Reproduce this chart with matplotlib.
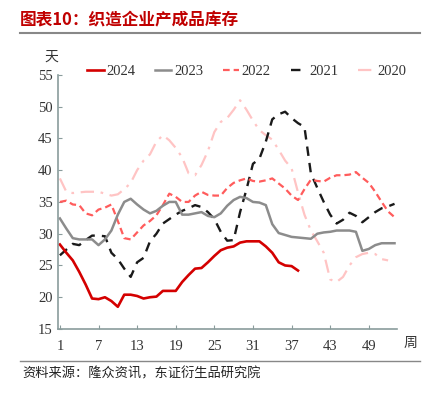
import matplotlib
matplotlib.use("Agg")
import matplotlib.pyplot as plt
from matplotlib.lines import Line2D

plt.rcParams['font.family'] = ['Liberation Serif', 'Noto Sans CJK SC', 'DejaVu Sans']

y2024 = [28.3, 27.0, 25.8, 24.0, 22.0, 19.8, 19.7, 20.0, 19.4, 18.5, 20.4, 20.4, 20.2, 19.8, 20.0,
         20.1, 21.0, 21.0, 21.0, 22.4, 23.5, 24.5, 24.6, 25.5, 26.5, 27.4, 27.8, 28.0, 28.6, 28.8,
         28.8, 28.8, 28.0, 27.0, 25.5, 25.0, 24.9, 24.2]
y2023 = [32.4, 30.8, 29.3, 29.1, 29.1, 29.1, 28.2, 29.1, 30.5, 33.0, 35.0, 35.5, 34.6, 33.8, 33.2,
         33.6, 34.4, 35.0, 35.0, 33.0, 33.0, 33.2, 33.4, 32.8, 32.6, 33.2, 34.4, 35.3, 35.8, 35.6,
         35.0, 34.9, 34.5, 31.5, 30.1, 29.8, 29.5, 29.4, 29.3, 29.2, 30.0, 30.2, 30.3, 30.5, 30.5,
         30.5, 30.3, 27.3, 27.6, 28.2, 28.5, 28.5, 28.5]
y2022 = [35.0, 35.2, 34.6, 34.5, 33.2, 32.9, 33.8, 34.1, 34.6, 32.0, 29.3, 29.1, 30.2, 31.3, 32.0,
         32.9, 34.5, 36.3, 35.8, 35.0, 35.0, 36.0, 36.6, 36.1, 36.0, 36.0, 37.2, 38.0, 38.4, 38.7,
         38.3, 38.2, 38.4, 38.7, 37.9, 37.1, 36.0, 35.3, 37.0, 38.5, 38.3, 38.2, 38.8, 39.2, 39.2,
         39.3, 39.7, 38.8, 38.0, 36.6, 35.0, 33.5, 32.6]
y2021 = [26.6, 27.5, 28.4, 28.2, 29.0, 29.7, 29.7, 29.6, 27.0, 26.0, 24.5, 23.2, 25.5, 26.2, 28.8,
         30.0, 31.6, 32.3, 33.0, 33.6, 34.0, 34.5, 34.2, 33.4, 32.3, 30.3, 28.9, 29.0, 33.4, 37.0,
         41.0, 41.8, 44.5, 48.0, 48.8, 49.2, 48.2, 47.4, 46.8, 39.5, 37.2, 35.0, 33.0, 31.6, 32.2,
         33.3, 32.8, 31.8, 32.6, 33.4, 34.0, 34.3, 34.7]
y2020 = [38.7, 36.6, 36.4, 36.5, 36.6, 36.6, 36.6, 36.3, 36.0, 36.2, 37.0, 38.0, 40.0, 41.5, 42.5,
         44.5, 45.5, 44.7, 43.5, 42.0, 39.5, 39.2, 40.8, 43.0, 46.0, 47.6, 48.2, 49.5, 51.0, 49.5,
         47.8, 46.3, 45.5, 44.8, 43.2, 41.5, 40.3, 36.5, 33.0, 30.5, 28.8, 27.0, 22.8, 22.4, 23.2,
         25.0, 26.3, 26.8, 27.0, 26.8, 26.0, 25.8]

xticks = [1, 7, 13, 19, 25, 31, 37, 43, 49]
yticks = [15, 20, 25, 30, 35, 40, 45, 50, 55]

fig = plt.figure(figsize=(4.22, 3.99), dpi=100)
ax = fig.add_axes([0.138, 0.1754, 0.803, 0.637])

def wk(v):
    return list(range(1, len(v) + 1))

ax.plot(wk(y2020), y2020, color='#ffc4c4', lw=1.6, dashes=(6, 3, 1.2, 3), label='2020')
ax.plot(wk(y2021), y2021, color='#1a1a1a', lw=1.7, dashes=(4, 3), label='2021')
ax.plot(wk(y2022), y2022, color='#ff5c5c', lw=1.6, dashes=(3, 1.8), label='2022')
ax.plot(wk(y2023), y2023, color='#8c8c8c', lw=1.8, label='2023')
ax.plot(wk(y2024), y2024, color='#d40000', lw=1.9, label='2024')

ax.set_xlim(0.74, 53.4)
ax.set_ylim(15, 55)
ax.set_xticks(xticks)
ax.set_yticks(yticks)
for s in ['top', 'right']:
    ax.spines[s].set_visible(False)
for s in ['left', 'bottom']:
    ax.spines[s].set_color('#8a9c9c')
    ax.spines[s].set_linewidth(1.2)
ax.tick_params(direction='in', length=3, color='#8a9c9c', labelsize=10.5, labelcolor='#333333')
ax.tick_params(axis='x', pad=8)
ax.tick_params(axis='y', pad=4)

handles = [
    Line2D([], [], color='#d40000', lw=1.9),
    Line2D([], [], color='#8c8c8c', lw=1.8),
    Line2D([], [], color='#ff5c5c', lw=1.6, dashes=(3, 1.8)),
    Line2D([], [], color='#1a1a1a', lw=1.7, dashes=(4, 3)),
    Line2D([], [], color='#ffc4c4', lw=1.6, dashes=(6, 3, 1.2, 3)),
]
labels = ['2024', '2023', '2022', '2021', '2020']
fig.legend(handles, labels, loc='center', bbox_to_anchor=(0.585, 0.822), ncol=5, frameon=False,
           fontsize=10.5, handlelength=1.1, handletextpad=0.2, columnspacing=1.35,
           labelcolor='#333333')

fig.text(0.121, 0.858, '天', fontsize=10, family=['Noto Sans CJK SC'], color='#333333',
         ha='center', va='center')
fig.text(0.972, 0.141, '周', fontsize=10, family=['Noto Sans CJK SC'], color='#333333',
         ha='center', va='center')

fig.text(0.047, 0.95, '图表10：织造企业产成品库存', fontsize=12, fontweight='bold',
         family=['Noto Sans CJK SC'], color='#c00000', ha='left', va='center')
fig.add_artist(Line2D([0.047, 0.995], [0.917, 0.917], color='#888888', lw=1.5))
fig.add_artist(Line2D([0.047, 0.995], [0.096, 0.096], color='#888888', lw=1.0))
fig.text(0.052, 0.063, '资料来源：隆众资讯，东证衍生品研究院', fontsize=9.5,
         family=['Noto Sans CJK SC'], color='#222222', ha='left', va='center')

fig.savefig('out.png', dpi=100)
